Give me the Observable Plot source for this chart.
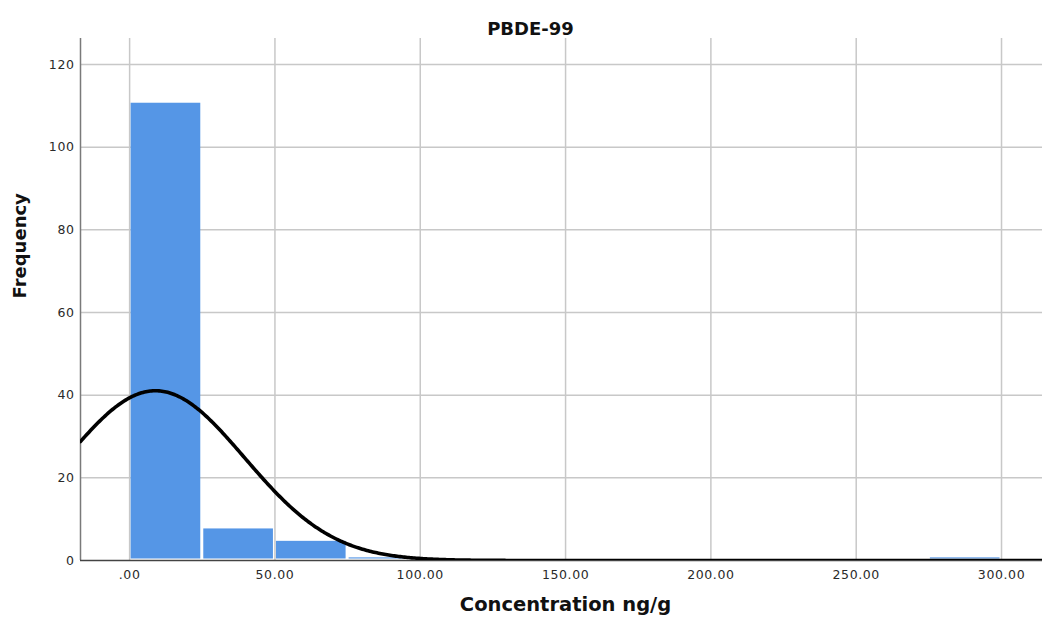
<!DOCTYPE html>
<html>
<head>
<meta charset="utf-8">
<script src="https://cdn.jsdelivr.net/npm/d3@7"></script>
<script src="https://cdn.jsdelivr.net/npm/@observablehq/plot@0.6"></script>
<style>
  body { margin: 0; background: #fff; }
  #chart svg { display: block; }
  #chart svg g[aria-label="x-axis tick label"] text,
  #chart svg g[aria-label="y-axis tick label"] text { letter-spacing: 0.6px; }
</style>
</head>
<body>
<div id="chart"></div>
<script>
// Histogram of PBDE-99 concentrations with a fitted normal curve
const title = "PBDE-99";
const xLabel = "Concentration ng/g";
const yLabel = "Frequency";

const binWidth = 25;
const binStarts = [0, 25, 50, 75, 100, 125, 150, 175, 200, 225, 250, 275];
const frequencies = [111, 8, 5, 1, 0, 0, 0, 0, 0, 0, 0, 1];

const xTicks = [0, 50, 100, 150, 200, 250, 300];
const yTicks = [0, 20, 40, 60, 80, 100, 120];

// Normal fit parameters (mean and standard deviation, ng/g)
const fitMean = 8.9;
const fitSd = 30.6;

const xDomain = [-16.9, 314.1];
const yDomain = [0, 126.3];

const bins = binStarts
  .map((x0, i) => ({x0, x1: x0 + binWidth, n: frequencies[i]}))
  .filter(d => d.n > 0);

const total = d3.sum(frequencies);
const curve = d3.range(xDomain[0], xDomain[1] + 0.5, 0.5).map(x => ({
  x,
  y: total * binWidth * Math.exp(-0.5 * ((x - fitMean) / fitSd) ** 2) / (fitSd * Math.sqrt(2 * Math.PI))
}));

const font = "'DejaVu Sans', sans-serif";
const gridStyle = {stroke: "#c8c8c8", strokeOpacity: 1, strokeWidth: 1.5};

const chart = Plot.plot({
  width: 1042,
  height: 624,
  marginLeft: 80,
  marginRight: 0,
  marginTop: 38,
  marginBottom: 64,
  style: {fontFamily: font, fontSize: "12.5px", color: "#2a2a2a", background: "#fff"},
  x: {domain: xDomain},
  y: {domain: yDomain},
  marks: [
    Plot.gridX(xTicks, gridStyle),
    Plot.gridY(yTicks.filter(d => d > 0), gridStyle),
    Plot.rectY(bins, {x1: "x0", x2: "x1", y: "n", fill: "#5596e6", inset: 1.5}),
    Plot.ruleX([xDomain[0]], {stroke: "#7a7a7a", strokeWidth: 1.5}),
    Plot.ruleY([0], {stroke: "#444", strokeWidth: 1.5}),
    Plot.line(curve, {x: "x", y: "y", stroke: "#000", strokeWidth: 3.6, clip: true}),
    Plot.axisX(xTicks, {
      tickSize: 0, tickPadding: 10, label: null,
      tickFormat: d => d === 0 ? ".00" : d.toFixed(2)
    }),
    Plot.axisY(yTicks, {tickSize: 0, tickPadding: 6, label: null}),
    Plot.text([title], {
      text: d => d, frameAnchor: "top", dx: -31, dy: -16,
      fontWeight: "bold", fontSize: 18, fill: "#111"
    }),
    Plot.text([xLabel], {
      text: d => d, frameAnchor: "bottom", dx: 4, dy: 50,
      fontWeight: "bold", fontSize: 19.5, fill: "#111"
    }),
    Plot.text([yLabel], {
      text: d => d, frameAnchor: "left", dx: -60, dy: -1, rotate: -90,
      fontWeight: "bold", fontSize: 18, fill: "#111"
    })
  ]
});

document.getElementById("chart").append(chart);
</script>
</body>
</html>
